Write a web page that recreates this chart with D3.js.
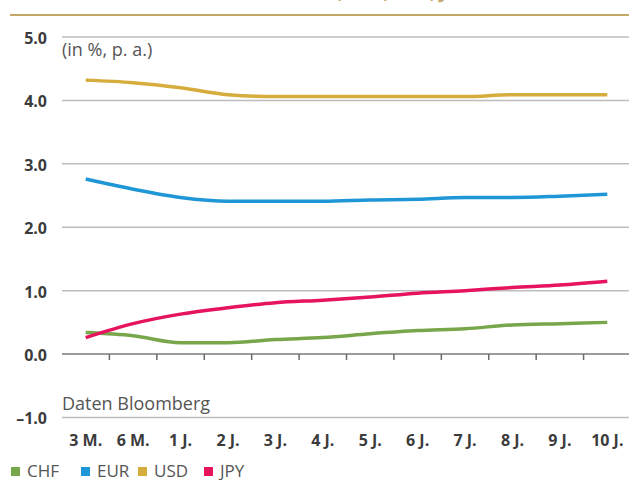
<!DOCTYPE html>
<html>
<head>
<meta charset="utf-8">
<script src="https://cdn.jsdelivr.net/npm/d3@7"></script>
<style>
  html, body { margin: 0; padding: 0; background: #fff; }
  svg { display: block; font-family: "Open Sans", "Noto Sans", sans-serif; }
</style>
</head>
<body>
<svg id="chart" width="629" height="480"></svg>
<script>
// Maturities along the curve
const maturities = ["3 M.", "6 M.", "1 J.", "2 J.", "3 J.", "4 J.", "5 J.", "6 J.", "7 J.", "8 J.", "9 J.", "10 J."];

// Yields in % p. a. per currency
const chf = [0.34, 0.29, 0.18, 0.18, 0.23, 0.26, 0.32, 0.37, 0.40, 0.46, 0.48, 0.50];
const eur = [2.76, 2.60, 2.47, 2.41, 2.41, 2.41, 2.43, 2.44, 2.47, 2.47, 2.49, 2.52];
const usd = [4.32, 4.28, 4.20, 4.09, 4.06, 4.06, 4.06, 4.06, 4.06, 4.09, 4.09, 4.09];
const jpy = [0.26, 0.48, 0.63, 0.73, 0.81, 0.85, 0.90, 0.96, 1.00, 1.05, 1.09, 1.15];

const currencies = ["CHF", "EUR", "USD", "JPY"];
const colors = ["#78a64a", "#1f97d6", "#d6ad3c", "#e6135f"];

const yTicks = [-1, 0, 1, 2, 3, 4, 5];

const series = [
  { name: "CHF", values: chf },
  { name: "EUR", values: eur },
  { name: "USD", values: usd },
  { name: "JPY", values: jpy }
];

const svg = d3.select("#chart");
const color = d3.scaleOrdinal(currencies, colors);

const x = d3.scaleBand().domain(maturities).range([62, 631]);
const y = d3.scaleLinear().domain([-1, 5]).range([417.5, 37]);

// Title (runs above the top edge) and its rule
svg.append("text")
  .attr("x", 333).attr("y", -1)
  .attr("text-anchor", "middle")
  .attr("fill", "#c4a86a")
  .attr("font-weight", "bold")
  .attr("font-size", 18)
  .text("Zinskurven CHF, EUR, USD, JPY");

svg.append("line")
  .attr("x1", 10).attr("x2", 629)
  .attr("y1", 15).attr("y2", 15)
  .attr("stroke", "#c4a86a")
  .attr("stroke-width", 2);

// Horizontal grid
svg.append("g")
  .selectAll("line")
  .data(yTicks)
  .join("line")
  .attr("x1", 62).attr("x2", 629)
  .attr("y1", d => y(d)).attr("y2", d => y(d))
  .attr("stroke", d => d === 0 ? "#7a7a7a" : "#bdbdbd")
  .attr("stroke-width", 1.5);

// Y axis labels
const yAxis = d3.axisLeft(y).tickValues(yTicks).tickSize(0).tickPadding(0)
  .tickFormat(d => d < 0 ? "\u2013" + Math.abs(d).toFixed(1) : d.toFixed(1));

const gy = svg.append("g").attr("transform", "translate(47,0)").call(yAxis);
gy.select(".domain").remove();
gy.selectAll("text")
  .attr("dy", "0.4em")
  .attr("font-family", "'Open Sans', sans-serif")
  .attr("font-size", 16)
  .attr("font-weight", "bold")
  .attr("fill", "#3b3b3b");

// Category separators below the zero line
svg.append("g")
  .selectAll("line")
  .data(maturities.slice(1))
  .join("line")
  .attr("x1", d => x(d)).attr("x2", d => x(d))
  .attr("y1", y(0)).attr("y2", y(0) + 6)
  .attr("stroke", "#6a6a6a")
  .attr("stroke-width", 1.5);

// X axis labels
const xAxis = d3.axisBottom(x).tickSize(0).tickPadding(0);
const gx = svg.append("g").attr("transform", "translate(0,435)").call(xAxis);
gx.select(".domain").remove();
gx.selectAll("text")
  .attr("dy", "0.7em")
  .attr("font-family", "'Open Sans', sans-serif")
  .attr("font-size", 16)
  .attr("font-weight", "bold")
  .attr("fill", "#3b3b3b");

// Notes
svg.append("text")
  .attr("x", 62).attr("y", 56)
  .attr("font-size", 18)
  .attr("fill", "#555")
  .text("(in %, p. a.)");

svg.append("text")
  .attr("x", 62).attr("y", 410)
  .attr("font-size", 18)
  .attr("fill", "#555")
  .text("Daten Bloomberg");

// Yield curves
const line = d3.line()
  .x((d, i) => x(maturities[i]) + x.bandwidth() / 2)
  .y(d => y(d))
  .curve(d3.curveMonotoneX);

svg.append("g")
  .selectAll("path")
  .data(series)
  .join("path")
  .attr("d", d => line(d.values))
  .attr("fill", "none")
  .attr("stroke", d => color(d.name))
  .attr("stroke-width", 3.5)
  .attr("stroke-linejoin", "round");

// Legend
const legendX = [11, 81, 138, 204];
const legend = svg.append("g")
  .selectAll("g")
  .data(currencies)
  .join("g")
  .attr("transform", (d, i) => `translate(${legendX[i]},467)`);

legend.append("rect")
  .attr("width", 9).attr("height", 9)
  .attr("fill", d => color(d));

legend.append("text")
  .attr("x", 16).attr("y", 9.5)
  .attr("font-size", 17)
  .attr("fill", "#555")
  .text(d => d);
</script>
</body>
</html>
